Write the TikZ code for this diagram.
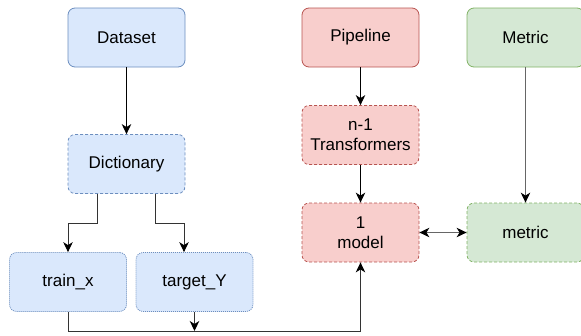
\documentclass[tikz,border=0pt]{standalone}
\usepackage{fontspec}
\setmainfont{Liberation Sans}
\usetikzlibrary{arrows.meta}
\definecolor{bluefill}{HTML}{DAE8FC}
\definecolor{bluedraw}{HTML}{6C8EBF}
\definecolor{redfill}{HTML}{F8CECC}
\definecolor{reddraw}{HTML}{B85450}
\definecolor{greenfill}{HTML}{D5E8D4}
\definecolor{greendraw}{HTML}{82B366}
\definecolor{edgegray}{HTML}{666666}
\definecolor{edgedark}{HTML}{333333}

\begin{document}
\begin{tikzpicture}[x=1pt,y=-1pt,
    box/.style={rounded corners=7pt,minimum width=117pt,minimum height=59pt,
        align=center,font=\fontsize{17}{20}\selectfont,line width=0.8pt},
    bluebox/.style={box,fill=bluefill,draw=bluedraw},
    redbox/.style={box,fill=redfill,draw=reddraw},
    greenbox/.style={box,fill=greenfill,draw=greendraw},
    dashbox/.style={dash pattern=on 3pt off 2pt},
    dotbox/.style={dash pattern=on 1pt off 1pt},
    tip/.tip={Stealth[length=10pt,width=9.5pt,inset=3pt,color=black]},
    arr/.style={-tip,line width=1pt}]
\useasboundingbox (0,0) rectangle (581,335);

% Data side
\node[bluebox] (dataset) at (126.5,37.5) {Dataset};
\node[bluebox,dashbox] (dict) at (126.5,164) {Dictionary};
\node[bluebox,dotbox] (trainx) at (68,282) {train\_x};
\node[bluebox,dotbox] (target) at (194.5,282) {target\_Y};

% Pipeline side
\node[redbox] (pipeline) at (360.5,37.5) {Pipeline};
\node[redbox,dashbox] (transf) at (360.5,135) {n-1\\Transformers};
\node[redbox,dashbox] (model) at (360.5,232.5) {1\\model};

% Metric side
\node[greenbox] (metricbox) at (525.5,37.5) {Metric};
\node[greenbox,dashbox] (metric) at (525.5,232.5) {metric};

% Connectors
\draw[arr] (dataset) -- (dict);
\draw[arr,edgedark] ([xshift=-29.5pt]dict.south) -- ++(0,29.5) -| (trainx.north);
\draw[arr,edgedark] ([xshift=28.5pt]dict.south) -- ++(0,29.5) -| ([xshift=-10.5pt]target.north);
\draw[arr,edgedark] (trainx.south) -- ++(0,19.5) -| (model.south);
\coordinate (join) at (target.south |- 0,331);
\draw[arr,edgedark] (target.south) -- (join);
\draw[arr] (pipeline) -- (transf);
\draw[arr] (transf) -- (model);
\draw[arr,edgegray] (metricbox) -- (metric);
\draw[arr,edgegray,tip-tip] (model) -- (metric);
\end{tikzpicture}
\end{document}
